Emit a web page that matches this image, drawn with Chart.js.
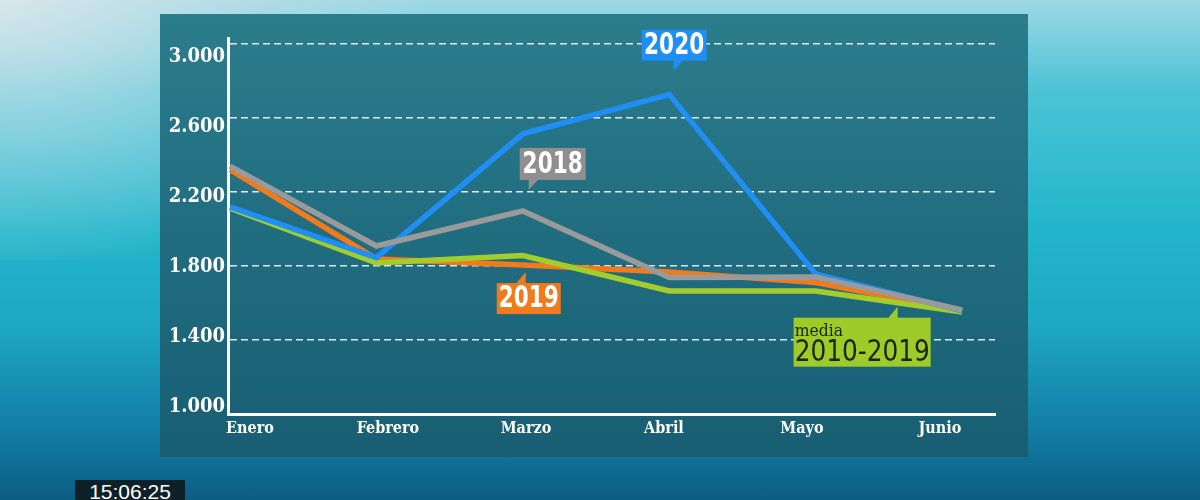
<!DOCTYPE html>
<html>
<head>
<meta charset="utf-8">
<script src="https://cdn.jsdelivr.net/npm/chart.js@4"></script>
<style>
  html, body { margin:0; padding:0; width:1200px; height:500px; overflow:hidden; }
  body {
    background: linear-gradient(180deg, #9fd8e4 0%, #4cc3d6 18%, #22b6cb 45%, #1ea7c2 65%, #137fa6 85%, #0c5d84 100%);
    position: relative; font-family: "Liberation Sans", sans-serif;
  }
  #topleft { position:absolute; left:0; top:0; width:420px; height:260px;
    background: radial-gradient(ellipse at 0% 0%, rgba(225,232,236,0.85) 0%, rgba(200,225,232,0.4) 45%, rgba(200,225,232,0) 75%); }
  #panel { position:absolute; left:160px; top:14px; width:868px; height:443px;
    background: linear-gradient(180deg, #2b7d8c 0%, #216d80 50%, #185e73 100%); }
  #wrap { position:absolute; left:160px; top:14px; width:868px; height:443px; }
  #clock { position:absolute; left:75px; top:480px; width:110px; height:20px; background:#0f2128;
    color:#ffffff; font: 21px "Liberation Sans", sans-serif; line-height:24px; text-align:center; overflow:hidden; }
</style>
</head>
<body>
<div id="topleft"></div>
<div id="panel"></div>
<div id="wrap"><canvas id="c"></canvas></div>
<div id="clock">15:06:25</div>
<script>
// ---- data ----
const months = ["Enero", "Febrero", "Marzo", "Abril", "Mayo", "Junio"];
const yTickValues = [1000, 1400, 1800, 2200, 2600, 3000];
const yTickLabels = ["1.000", "1.400", "1.800", "2.200", "2.600", "3.000"];
const serie2018 = [2340, 1908, 2097, 1738, 1740, 1562];
const serie2019 = [2320, 1838, 1805, 1768, 1710, 1557];
const serie2020 = [2119, 1845, 2514, 2726, 1757, 1557];
const serieMedia = [2113, 1816, 1856, 1665, 1665, 1551];

// ---- callouts (label, colour, text colour, tip in data units, box offsets in px) ----
const callouts = [
  { lines:["2020"], bg:"#1f8ef5", fg:"#ffffff", tx:3.03, ty:2855, bx:-32, by:-41, bw:65, bh:31, ptr:"down" },
  { lines:["2018"], bg:"#8f8f8f", fg:"#ffffff", tx:2.04, ty:2211, bx:-9, by:-42, bw:66, bh:32, ptr:"down" },
  { lines:["2019"], bg:"#f07a1c", fg:"#ffffff", tx:2.02, ty:1767, bx:-29, by:11, bw:64, bh:31, ptr:"up" },
  { lines:["media","2010-2019"], bg:"#9fcb2a", fg:"#1b2410", tx:4.56, ty:1580, bx:-104, by:11, bw:137, bh:49, ptr:"up" }
];

const toXY = arr => arr.map((v, i) => ({ x: i, y: v }));

function condensedText(ctx, text, x, y, font, sx, align) {
  ctx.save();
  ctx.font = font;
  ctx.textAlign = align;
  ctx.translate(x, y);
  ctx.scale(sx, 1);
  ctx.fillText(text, 0, 0);
  ctx.restore();
}

const calloutPlugin = {
  id: 'callouts',
  afterDatasetsDraw(chart) {
    const ctx = chart.ctx;
    const xs = chart.scales.x, ys = chart.scales.y;
    callouts.forEach(c => {
      const tx = xs.getPixelForValue(c.tx), ty = ys.getPixelForValue(c.ty);
      const bx = tx + c.bx, by = ty + c.by;
      ctx.save();
      ctx.fillStyle = c.bg;
      ctx.fillRect(bx, by, c.bw, c.bh);
      ctx.beginPath();
      if (c.ptr === "down") {
        ctx.moveTo(tx, by + c.bh - 1); ctx.lineTo(tx + 10, by + c.bh - 1); ctx.lineTo(tx, ty);
      } else {
        ctx.moveTo(tx, by + 1); ctx.lineTo(tx - 10, by + 1); ctx.lineTo(tx, ty);
      }
      ctx.closePath(); ctx.fill();
      ctx.fillStyle = c.fg;
      ctx.textBaseline = "middle";
      if (c.lines.length === 1) {
        condensedText(ctx, c.lines[0], bx + c.bw / 2, by + c.bh / 2 + 1,
          "bold 30px 'DejaVu Sans', sans-serif", 0.72, "center");
      } else {
        condensedText(ctx, c.lines[0], bx + 1, by + 14, "17px 'DejaVu Serif', serif", 0.92, "left");
        condensedText(ctx, c.lines[1], bx + 1, by + 35, "31px 'DejaVu Sans', sans-serif", 0.8, "left");
      }
      ctx.restore();
    });
  }
};

const serifFam = "'DejaVu Serif Condensed', 'DejaVu Serif', serif";

new Chart(document.getElementById('c'), {
  type: 'line',
  data: {
    datasets: [
      { label: "2018", data: toXY(serie2018), borderColor: "#9a9a9a" },
      { label: "2020", data: toXY(serie2020), borderColor: "#1f8ef5" },
      { label: "Media 2010-2019", data: toXY(serieMedia), borderColor: "#a2cd2b" },
      { label: "2019", data: toXY(serie2019), borderColor: "#f07a1c" }
    ].map(d => Object.assign(d, { borderWidth: 5.5, pointRadius: 0, tension: 0, fill: false, borderJoinStyle: 'miter' }))
  },
  options: {
    responsive: true, maintainAspectRatio: false, animation: false,
    layout: { padding: { left: 0, right: 33, top: 24, bottom: 0 } },
    plugins: { legend: { display: false }, tooltip: { enabled: false } },
    scales: {
      x: { type: 'linear', display: false, min: -0.0137, max: 5.225 },
      xl: {
        type: 'linear', position: 'bottom', min: -0.159, max: 5.399,
        afterBuildTicks: s => { s.ticks = months.map((m, i) => ({ value: i })); },
        afterFit: s => { s.height = 43; },
        grid: { display: false, tickLength: 0 },
        border: { display: true, color: "#ffffff", width: 3 },
        ticks: { color: "#ffffff", font: { family: serifFam, weight: "bold", size: 16 }, padding: 5,
                 maxRotation: 0, autoSkip: false, callback: v => months[v] }
      },
      y: {
        type: 'linear', position: 'left', min: 1000, max: 3032,
        afterBuildTicks: s => { s.ticks = yTickValues.map(v => ({ value: v })); },
        afterFit: s => { s.width = 0; },
        grid: { color: "rgba(255,255,255,0.85)", lineWidth: 1.5, drawTicks: false },
        border: { display: true, color: "#ffffff", width: 3, dash: [7, 4] },
        ticks: { display: false }
      },
      yl: {
        type: 'linear', position: 'left', weight: 1, min: 960, max: 3108.6,
        afterBuildTicks: s => { s.ticks = yTickValues.map(v => ({ value: v })); },
        afterFit: s => { s.width = 68; },
        grid: { display: false, tickLength: 0 }, border: { display: false },
        ticks: { color: "#ffffff", font: { family: serifFam, weight: "bold", size: 20 }, padding: 3,
                 callback: v => yTickLabels[yTickValues.indexOf(v)] }
      }
    }
  },
  plugins: [calloutPlugin]
});
</script>
</body>
</html>
